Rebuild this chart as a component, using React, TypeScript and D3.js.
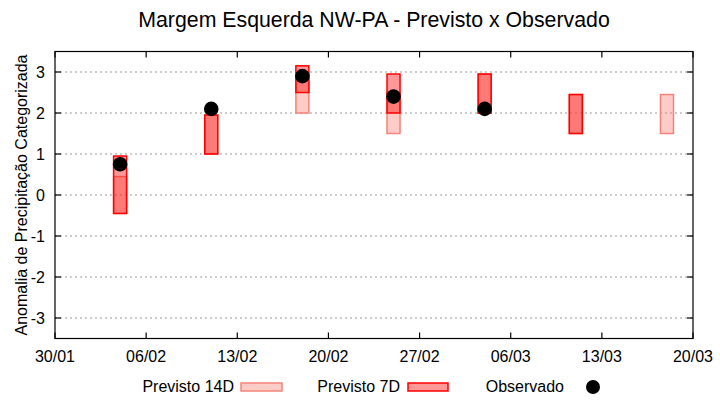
import React from "react";
import * as d3 from "d3";

const dates = ["2023-02-04", "2023-02-11", "2023-02-18", "2023-02-25", "2023-03-04", "2023-03-11", "2023-03-18"];
const prev14Low = [-0.45, 1.0, 2.0, 1.5, 2.0, 1.5, 1.5];
const prev14High = [0.45, 1.95, 2.95, 2.5, 2.95, 2.45, 2.45];
const prev7Dates = ["2023-02-04", "2023-02-11", "2023-02-18", "2023-02-25", "2023-03-04", "2023-03-11"];
const prev7Low = [-0.45, 1.0, 2.5, 2.0, 2.0, 1.5];
const prev7High = [0.95, 1.95, 3.15, 2.95, 2.95, 2.45];
const obsDates = ["2023-02-04", "2023-02-11", "2023-02-18", "2023-02-25", "2023-03-04"];
const obsValues = [0.75, 2.1, 2.9, 2.4, 2.1];
const xTickDates = ["2023-01-30", "2023-02-06", "2023-02-13", "2023-02-20", "2023-02-27", "2023-03-06", "2023-03-13", "2023-03-20"];
const yTicks = [-3, -2, -1, 0, 1, 2, 3];

const W = 720, H = 400;
const L = 55, R = 693, T = 51.5, B = 338.5;
const FONT = "'Liberation Sans', Arial, sans-serif";

const parse = (s: string) => new Date(s + "T00:00:00Z");
const DAY = 86400000;

export default function App() {
  const x = d3.scaleUtc().domain([parse("2023-01-30"), parse("2023-03-20")]).range([L, R]);
  const y = d3.scaleLinear().domain([-3.5, 3.5]).range([B, T]);
  const fmt = d3.utcFormat("%d/%m");
  const half = (d: string) => [x(new Date(parse(d).getTime() - DAY / 2)), x(new Date(parse(d).getTime() + DAY / 2))];

  const c14Fill = "rgba(250,128,114,0.4)";
  const c14Stroke = "#f4847a";
  const c7Fill = "rgba(255,0,0,0.4)";
  const c7Stroke = "#ff0000";

  return (
    <svg width={W} height={H} style={{ display: "block", position: "absolute", left: 0, top: 0 }} fontFamily={FONT}>
      <rect width={W} height={H} fill="#fff" />
      <text x={374} y={27} textAnchor="middle" fontSize={21.3} fill="#000">Margem Esquerda NW-PA - Previsto x Observado</text>
      {/* grid */}
      {yTicks.map((t) => (
        <line key={"g" + t} x1={L} x2={R} y1={y(t)} y2={y(t)} stroke="#999" strokeWidth={1} strokeDasharray="2,3" />
      ))}
      {/* 14D bars */}
      {dates.map((d, i) => {
        const [a, b] = half(d);
        return (
          <rect key={"p14" + i} x={a} y={y(prev14High[i])} width={b - a} height={y(prev14Low[i]) - y(prev14High[i])}
            fill={c14Fill} stroke={c14Stroke} strokeWidth={1.5} />
        );
      })}
      {/* 7D bars */}
      {prev7Dates.map((d, i) => {
        const [a, b] = half(d);
        return (
          <rect key={"p7" + i} x={a} y={y(prev7High[i])} width={b - a} height={y(prev7Low[i]) - y(prev7High[i])}
            fill={c7Fill} stroke={c7Stroke} strokeWidth={1.5} />
        );
      })}
      {/* observed */}
      {obsDates.map((d, i) => (
        <circle key={"o" + i} cx={x(parse(d))} cy={y(obsValues[i])} r={7.3} fill="#000" />
      ))}
      {/* border */}
      <rect x={L} y={T} width={R - L} height={B - T} fill="none" stroke="#000" strokeWidth={1.2} />
      {/* y ticks */}
      {yTicks.map((t) => (
        <g key={"yt" + t}>
          <line x1={L} x2={L + 6} y1={y(t)} y2={y(t)} stroke="#000" strokeWidth={1.2} />
          <line x1={R - 6} x2={R} y1={y(t)} y2={y(t)} stroke="#000" strokeWidth={1.2} />
          <text x={45} y={y(t) + 5.5} textAnchor="end" fontSize={16}>{t}</text>
        </g>
      ))}
      {/* x ticks */}
      {xTickDates.map((s) => {
        const xx = x(parse(s));
        return (
          <g key={"xt" + s}>
            <line x1={xx} x2={xx} y1={B} y2={B - 6} stroke="#000" strokeWidth={1.2} />
            <line x1={xx} x2={xx} y1={T} y2={T + 6} stroke="#000" strokeWidth={1.2} />
            <text x={xx} y={362} textAnchor="middle" fontSize={16}>{fmt(parse(s))}</text>
          </g>
        );
      })}
      <text transform={`translate(27,${(T + B) / 2}) rotate(-90)`} textAnchor="middle" fontSize={16}>Anomalia de Precipitação Categorizada</text>
      {/* legend */}
      <text x={234} y={392} textAnchor="end" fontSize={16}>Previsto 14D</text>
      <rect x={241} y={383} width={41} height={8} fill={c14Fill} stroke={c14Stroke} strokeWidth={1.5} />
      <text x={400} y={392} textAnchor="end" fontSize={16}>Previsto 7D</text>
      <rect x={408} y={383} width={40} height={8} fill={c7Fill} stroke={c7Stroke} strokeWidth={1.5} />
      <text x={564} y={392} textAnchor="end" fontSize={16}>Observado</text>
      <circle cx={593} cy={387} r={7} fill="#000" />
    </svg>
  );
}
